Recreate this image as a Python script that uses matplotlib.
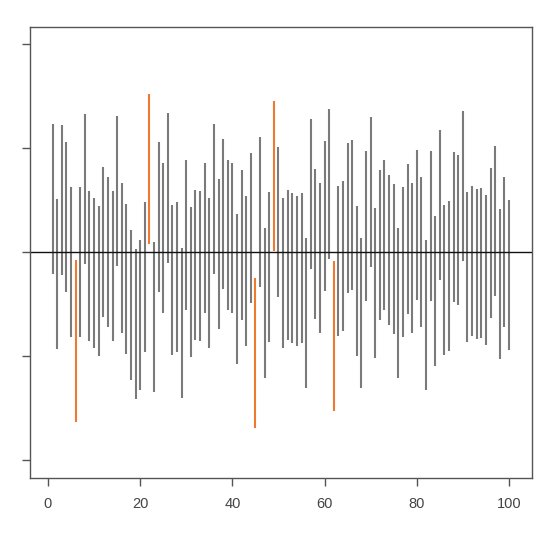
import numpy as np
import matplotlib
matplotlib.use("Agg")
import matplotlib.pyplot as plt

# sample index and interval centres (tick spacing = 1 unit)
sample_ids = np.arange(1, 101)
centres = [
    0.511, -0.210, 0.506, 0.343, -0.096, -0.853, -0.096, 0.604, -0.130, -0.196,
    -0.274, 0.099, 0.000, -0.130, 0.587, -0.058, -0.255, -0.511, -0.686, -0.604,
    -0.234, 0.801, -0.627, 0.340, 0.133, 0.620, -0.266, -0.239, -0.679, 0.170,
    -0.282, -0.120, -0.131, 0.141, -0.196, 0.514, -0.018, 0.372, 0.168, 0.141,
    -0.354, 0.072, -0.184, 0.232, -0.970, 0.389, -0.486, -0.141, 0.736, 0.293,
    -0.200, -0.120, -0.151, -0.181, -0.151, -0.588, 0.558, 0.080, -0.051, 0.346,
    0.655, -0.803, -0.082, -0.040, 0.329, 0.354, -0.274, -0.582, 0.253, 0.577,
    -0.296, 0.069, 0.168, 0.018, -0.069, -0.484, -0.096, 0.123, -0.053, 0.258,
    0.005, -0.607, 0.255, -0.372, 0.452, -0.266, -0.229, 0.245, 0.213, 0.639,
    -0.146, -0.088, -0.114, -0.106, -0.167, 0.090, 0.303, -0.306, 0.000, -0.221,
]
# half-width of each interval; sample 6 is drawn a little longer
margins = [0.721] * 100
margins[5] = 0.776
true_value = 0.0

GREY = "#7a7a7a"
ORANGE = "#EE7A30"

centres = np.array(centres)
margins = np.array(margins)
lower = centres - margins
upper = centres + margins
misses = (lower > true_value) | (upper < true_value)
colours = [ORANGE if m else GREY for m in misses]

plt.rcParams["font.family"] = ["Liberation Sans", "DejaVu Sans"]

fig = plt.figure(figsize=(5.44, 5.41), dpi=100)
ax = fig.add_axes([30 / 544, 63 / 541, 502 / 544, 451 / 541])

ax.vlines(sample_ids, lower, upper, colors=colours, linewidth=1.5)
ax.axhline(true_value, color="#111111", linewidth=1.0)

ax.set_xlim(-3.9, 105)
ax.set_ylim(-2.17, 2.165)
ax.set_xticks([0, 20, 40, 60, 80, 100])
ax.set_yticks([-2, -1, 0, 1, 2])
ax.set_yticklabels([])

for side in ax.spines.values():
    side.set_color("#555555")
    side.set_linewidth(1.0)
ax.tick_params(axis="both", direction="out", length=6, width=1.0,
               color="#555555", labelcolor="#444444", labelsize=10.5)
ax.tick_params(axis="x", pad=8)

fig.savefig("out.png", dpi=100)
